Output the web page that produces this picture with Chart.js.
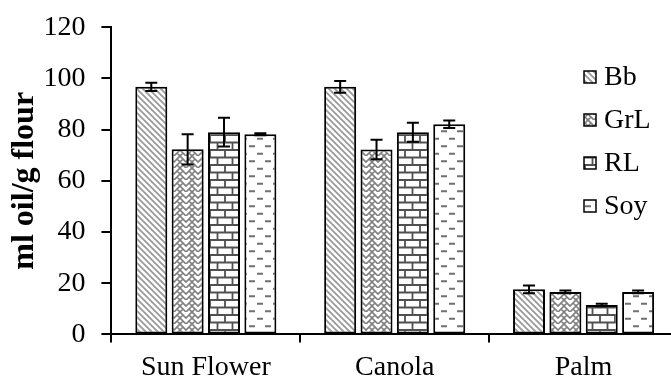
<!DOCTYPE html>
<html>
<head>
<meta charset="utf-8">
<script src="https://cdn.jsdelivr.net/npm/chart.js@4.4.1/dist/chart.umd.min.js"></script>
<style>
  html, body { margin: 0; padding: 0; background: #fff; overflow: hidden; }
  #wrap { width: 680px; height: 377px; }
</style>
</head>
<body>
<div id="wrap"><canvas id="c"></canvas></div>
<script>
// data
const categories = ["Sun Flower", "Canola", "Palm"];
const seriesNames = ["Bb", "GrL", "RL", "Soy"];
const bbValues = [96.7, 96.7, 17.6];
const bbErrors = [1.6, 2.3, 1.5];
const grlValues = [72.3, 72.2, 16.6];
const grlErrors = [5.9, 3.8, 0.5];
const rlValues = [79.0, 79.0, 11.5];
const rlErrors = [5.6, 3.7, 0.5];
const soyValues = [78.2, 82.1, 16.6];
const soyErrors = [0.4, 1.5, 0.5];
const yMin = 0, yMax = 120, yStep = 20;

const FONT = "'Liberation Serif', 'Times New Roman', serif";

// fill patterns
function makePattern(w, h, draw) {
  const c = document.createElement("canvas");
  c.width = w;
  c.height = h;
  const g = c.getContext("2d");
  g.fillStyle = "#fff";
  g.fillRect(0, 0, w, h);
  draw(g);
  return document.getElementById("c").getContext("2d").createPattern(c, "repeat");
}

const diagPattern = makePattern(6, 6, g => {
  g.strokeStyle = "#9a9a9a";
  g.lineWidth = 1.8;
  g.beginPath();
  g.moveTo(-1, -1); g.lineTo(7, 7);
  g.moveTo(-1, 5); g.lineTo(1, 7);
  g.moveTo(5, -1); g.lineTo(7, 1);
  g.stroke();
});

// herringbone-ish weave
const zigPattern = makePattern(12, 12, g => {
  g.strokeStyle = "#808080";
  g.lineWidth = 1.7;
  g.beginPath();
  g.moveTo(0, 0); g.lineTo(6, 6); g.lineTo(12, 0);
  g.moveTo(0, 6); g.lineTo(6, 12); g.lineTo(12, 6);
  g.moveTo(3, 3); g.lineTo(0, 6);
  g.moveTo(9, 9); g.lineTo(12, 12);
  g.moveTo(9, 3); g.lineTo(12, 6);
  g.moveTo(3, 9); g.lineTo(0, 12);
  g.stroke();
});

const brickPattern = makePattern(15, 15, g => {
  g.strokeStyle = "#505050";
  g.lineWidth = 1.8;
  g.beginPath();
  g.moveTo(0, 0); g.lineTo(15, 0);
  g.moveTo(0, 7.5); g.lineTo(15, 7.5);
  g.moveTo(0, 15); g.lineTo(15, 15);
  g.moveTo(0, 0); g.lineTo(0, 7.5);
  g.moveTo(15, 0); g.lineTo(15, 7.5);
  g.moveTo(7.5, 7.5); g.lineTo(7.5, 15);
  g.stroke();
});

const dashPattern = makePattern(16, 15, g => {
  g.strokeStyle = "#707070";
  g.lineWidth = 2;
  g.beginPath();
  g.moveTo(1, 3.75); g.lineTo(7, 3.75);
  g.moveTo(9, 11.25); g.lineTo(15, 11.25);
  g.stroke();
});

const seriesValues = [bbValues, grlValues, rlValues, soyValues];
const seriesErrors = [bbErrors, grlErrors, rlErrors, soyErrors];
const seriesFills = [diagPattern, zigPattern, brickPattern, dashPattern];

// error bars drawn from the y scale
const errorBars = {
  id: "errorBars",
  afterDatasetsDraw(chart) {
    const ctx = chart.ctx;
    const y = chart.scales.y;
    ctx.save();
    ctx.strokeStyle = "#000";
    ctx.lineWidth = 2;
    chart.data.datasets.forEach((ds, i) => {
      const meta = chart.getDatasetMeta(i);
      meta.data.forEach((bar, j) => {
        const v = ds.data[j], e = ds.errors[j];
        const top = y.getPixelForValue(v + e);
        const bot = y.getPixelForValue(v - e);
        ctx.beginPath();
        ctx.moveTo(bar.x, top); ctx.lineTo(bar.x, bot);
        ctx.moveTo(bar.x - 6, top); ctx.lineTo(bar.x + 6, top);
        ctx.moveTo(bar.x - 6, bot); ctx.lineTo(bar.x + 6, bot);
        ctx.stroke();
      });
    });
    ctx.restore();
  }
};

// legend inside the plot on the right
const innerLegend = {
  id: "innerLegend",
  afterDraw(chart) {
    const ctx = chart.ctx;
    ctx.save();
    ctx.font = "28px " + FONT;
    ctx.textBaseline = "middle";
    chart.data.datasets.forEach((ds, i) => {
      const cy = 77 + i * 43;
      ctx.fillStyle = ds.backgroundColor;
      ctx.fillRect(584, cy - 6, 12, 12);
      ctx.strokeStyle = "#000";
      ctx.lineWidth = 1.5;
      ctx.strokeRect(584, cy - 6, 12, 12);
      ctx.fillStyle = "#000";
      ctx.fillText(ds.label, 604, cy + 1);
    });
    ctx.restore();
  }
};

new Chart(document.getElementById("c"), {
  type: "bar",
  data: {
    labels: categories,
    datasets: seriesNames.map((name, i) => ({
      label: name,
      data: seriesValues[i],
      errors: seriesErrors[i],
      backgroundColor: seriesFills[i],
      borderColor: "#000",
      borderWidth: 2,
      borderSkipped: false,
      barPercentage: 0.88,
      categoryPercentage: 0.77
    }))
  },
  options: {
    responsive: true,
    maintainAspectRatio: false,
    animation: false,
    layout: { padding: { left: 6, top: 26, right: 2, bottom: -15 } },
    plugins: {
      legend: { display: false },
      tooltip: { enabled: false }
    },
    scales: {
      x: {
        border: { color: "#000", width: 2 },
        grid: { drawOnChartArea: false, offset: true, color: "#000", lineWidth: 2, tickLength: 8 },
        ticks: { color: "#000", font: { family: FONT, size: 28 }, padding: 8 }
      },
      y: {
        min: yMin,
        max: yMax,
        border: { color: "#000", width: 2 },
        grid: { drawOnChartArea: false, color: "#000", lineWidth: 2, tickLength: 10 },
        ticks: { stepSize: yStep, color: "#000", font: { family: FONT, size: 28, lineHeight: 0.8 }, padding: 16 },
        title: {
          display: true,
          text: "ml oil/g flour",
          color: "#000",
          font: { family: FONT, size: 32, weight: "bold" },
          padding: { top: 0, bottom: -17 }
        }
      }
    }
  },
  plugins: [errorBars, innerLegend]
});
</script>
</body>
</html>
